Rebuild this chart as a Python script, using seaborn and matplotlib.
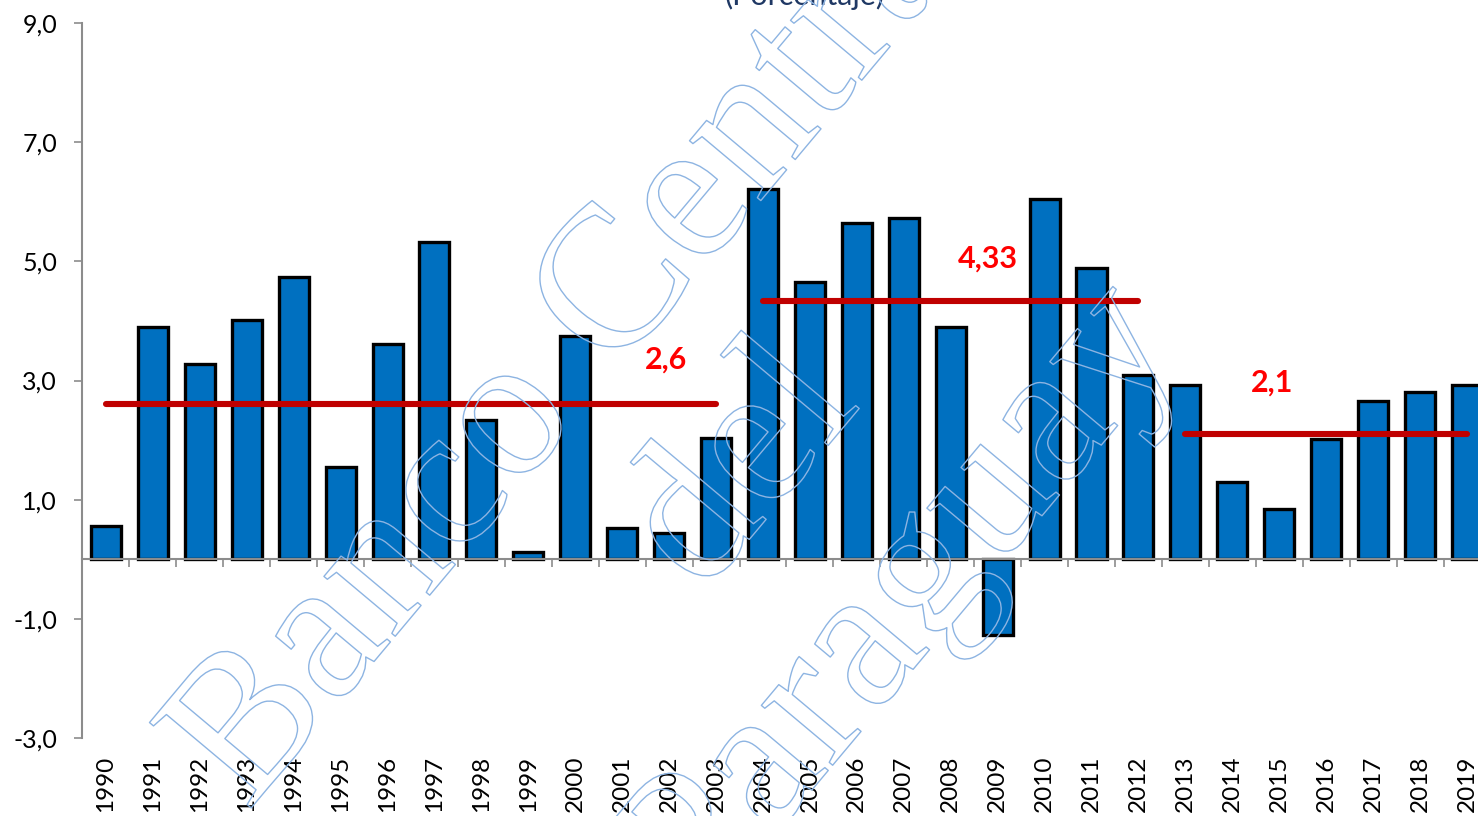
import matplotlib
matplotlib.use("Agg")
import matplotlib.pyplot as plt
import matplotlib.patheffects as pe
import matplotlib.transforms as mtransforms
import seaborn as sns
import pandas as pd
import math

# ---------------- data ----------------
years = ["1990", "1991", "1992", "1993", "1994", "1995", "1996", "1997", "1998", "1999",
         "2000", "2001", "2002", "2003", "2004", "2005", "2006", "2007", "2008", "2009",
         "2010", "2011", "2012", "2013", "2014", "2015", "2016", "2017", "2018", "2019"]
growth = [0.55, 3.89, 3.28, 4.02, 4.74, 1.54, 3.61, 5.33, 2.33, 0.13,
          3.75, 0.52, 0.44, 2.04, 6.22, 4.66, 5.64, 5.73, 3.89, -1.27,
          6.05, 4.88, 3.10, 2.92, 1.29, 0.85, 2.01, 2.66, 2.80, 2.92]

avg_values = [2.6, 4.33, 2.1]
avg_labels = ["2,6", "4,33", "2,1"]
avg_start = ["1990", "2004", "2013"]
avg_end = ["2003", "2012", "2019"]

yticks = [-3.0, -1.0, 1.0, 3.0, 5.0, 7.0, 9.0]
title_text = "(Porcentaje)"
watermark_lines = ["Banco Central", "del", "Paraguay"]

# ---------------- style ----------------
sns.set_style("white")
plt.rcParams["font.family"] = ["Lato", "DejaVu Sans"]

W, H = 1478, 816
fig = plt.figure(figsize=(W / 100, H / 100), dpi=100)
ax = fig.add_axes([82 / W, 1 - 738 / H, (W - 82) / W, (738 - 23) / H])

df = pd.DataFrame({"year": years, "growth": growth})
sns.barplot(data=df, x="year", y="growth", color="#0070C0", saturation=1,
            edgecolor="black", linewidth=2.4, width=0.64, ax=ax, zorder=2)

# average lines
idx = {y: i for i, y in enumerate(years)}
label_offsets = [(-1.07, 0.75), (-3.21, 0.71), (-4.15, 0.87)]
for v, lab, s, e, (dx, dy) in zip(avg_values, avg_labels, avg_start, avg_end, label_offsets):
    ax.plot([idx[s], idx[e]], [v, v], color="#C00000", lw=4.4,
            solid_capstyle="round", zorder=4)
    ax.text(idx[e] + dx, v + dy, lab, color="#FF0000", fontsize=22,
            fontweight="bold", ha="center", va="center", zorder=5)

ax.set_xlim(-0.51, (W - 106) / 46.93)
ax.set_ylim(-3, 9)
ax.set_yticks(yticks)
ax.set_yticklabels([f"{t:.1f}".replace(".", ",") for t in yticks], fontsize=18)

# spines
grey = "#8C8C8C"
for s in ["top", "right"]:
    ax.spines[s].set_visible(False)
ax.spines["left"].set_color(grey)
ax.spines["left"].set_linewidth(1.5)
ax.spines["bottom"].set_position(("data", 0))
ax.spines["bottom"].set_color(grey)
ax.spines["bottom"].set_linewidth(1.5)
ax.spines["bottom"].set_zorder(3)

ax.tick_params(axis="y", direction="out", length=6, width=1.2, color=grey,
               pad=12, labelcolor="black", left=True)
ax.set_xticks([i + 0.5 for i in range(len(years) - 1)])
ax.set_xticklabels([])
ax.tick_params(axis="x", direction="out", length=6, width=1.2, color=grey, bottom=True)
ax.set_xlabel("")
ax.set_ylabel("")

# category labels below the plot area
trans = mtransforms.offset_copy(
    mtransforms.blended_transform_factory(ax.transData, ax.transAxes),
    fig=fig, x=0, y=-18, units="dots")
for i, y in enumerate(years):
    ax.text(i, 0, y, transform=trans, rotation=90, ha="center", va="top",
            fontsize=17.5, color="black", clip_on=False)

# title (cut by the top edge)
fig.text(805 / W, 1 - 10 / H, title_text, ha="center", va="bottom",
         fontsize=22, color="#1F3864")

# watermark
ang = 50
c, s_ = math.cos(math.radians(ang)), math.sin(math.radians(ang))
centers = [(622, 366)]
centers.append((centers[0][0] + 209 * s_, centers[0][1] + 209 * c))
centers.append((centers[0][0] + 418 * s_, centers[0][1] + 418 * c))
for (px, py), line in zip(centers, watermark_lines):
    fig.text(px / W, 1 - py / H, line, rotation=ang, rotation_mode="anchor",
             ha="center", va="baseline", fontsize=146, family="Liberation Serif",
             color="none", zorder=10,
             path_effects=[pe.Stroke(linewidth=1.0, foreground="#8DB4E2")])

fig.savefig("out.png", dpi=100)
